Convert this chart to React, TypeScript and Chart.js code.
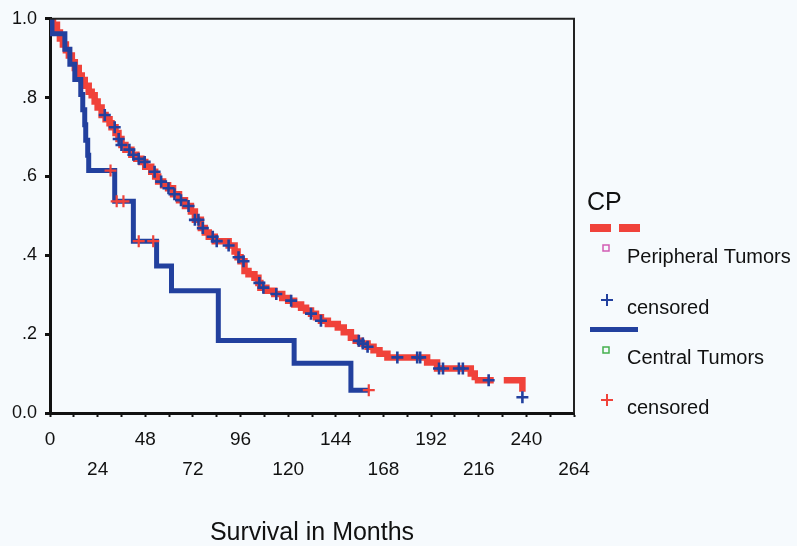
import React, { useEffect, useRef } from 'react';
import { Chart, registerables } from 'chart.js';

Chart.register(...registerables);

// ---- Data ----
// Peripheral tumors: Kaplan-Meier step points (month of event, survival after it)
const periMonths = [0, 1.5, 3.5, 5, 6.5, 8, 9.5, 11, 12.5, 14.5, 16, 17.5, 19.5, 21, 22.5, 24, 26, 28, 30, 31, 33, 34.5, 36, 38, 41, 43.5, 46, 48, 51, 53, 54.5, 57, 59.5, 62, 65, 68, 71, 73, 76, 78, 80, 83, 90, 93, 94.5, 96, 98, 100, 103, 105, 106, 109, 113, 117, 120, 123, 126.5, 129, 131.5, 134, 136.5, 140, 145, 148, 151.6, 154, 156.6, 160, 163, 166, 170, 190, 195, 212, 214, 238];
const periSurv = [1.0, 0.985, 0.965, 0.95, 0.935, 0.92, 0.907, 0.89, 0.875, 0.856, 0.845, 0.83, 0.815, 0.806, 0.79, 0.775, 0.756, 0.745, 0.735, 0.725, 0.71, 0.695, 0.68, 0.668, 0.655, 0.645, 0.637, 0.625, 0.612, 0.6, 0.587, 0.578, 0.57, 0.555, 0.54, 0.525, 0.511, 0.49, 0.469, 0.458, 0.447, 0.436, 0.425, 0.41, 0.395, 0.385, 0.36, 0.352, 0.343, 0.33, 0.318, 0.31, 0.302, 0.292, 0.285, 0.275, 0.267, 0.26, 0.252, 0.243, 0.234, 0.226, 0.217, 0.205, 0.191, 0.183, 0.176, 0.168, 0.159, 0.15, 0.141, 0.128, 0.113, 0.1, 0.083, 0.04];
const periCensorMonths = [27.6, 32.6, 34.6, 36, 40, 42, 44.7, 47.7, 52.7, 56, 59.7, 62.7, 66, 69.8, 73, 74.8, 77, 82, 84, 90, 95, 97.5, 105.5, 107.5, 114, 121.5, 131.5, 136.5, 155.6, 157.6, 160, 175, 185, 186.5, 196, 198, 206, 208, 221, 238];

// Central tumors
const centMonths = [0, 1, 7.5, 10, 12.5, 15.5, 16.5, 17.5, 18, 19, 19.5, 32.6, 42, 53.7, 61.2, 84.8, 123, 151.6, 160.6];
const centSurv = [1, 0.962, 0.923, 0.885, 0.846, 0.808, 0.769, 0.731, 0.692, 0.654, 0.615, 0.537, 0.436, 0.373, 0.31, 0.184, 0.126, 0.058, 0.058];
const centCensorMonths = [30.5, 33.6, 37, 44.7, 52, 160.6];

const xLabelsRow1 = [0, 48, 96, 144, 192, 240];
const xLabelsRow2 = [24, 72, 120, 168, 216, 264];

const legendTitle = 'CP';
const groupNames = ['Peripheral Tumors', 'Central Tumors'];
const censoredLabel = 'censored';
const xTitle = 'Survival in Months';

// ---- Styles ----
const RED = '#f0423a';
const BLUE = '#22409e';
const BG = '#f6fafd';
const INK = '#111111';
const FONT = '"Liberation Sans", Arial, Helvetica, sans-serif';

function survAt(months: number[], surv: number[], t: number): number {
  let v = surv[0];
  for (let i = 0; i < months.length; i++) {
    if (months[i] <= t) v = surv[i];
  }
  return v;
}

const bgPlugin = {
  id: 'bg',
  beforeDraw(chart: any) {
    const ctx = chart.ctx;
    ctx.save();
    ctx.fillStyle = BG;
    ctx.fillRect(0, 0, chart.width, chart.height);
    ctx.restore();
  },
};

const framePlugin = {
  id: 'frame',
  afterDraw(chart: any) {
    const { ctx, chartArea } = chart;
    const { left, right, top, bottom } = chartArea;
    ctx.save();
    ctx.strokeStyle = '#222';
    ctx.lineWidth = 2;
    ctx.beginPath();
    ctx.moveTo(left, top);
    ctx.lineTo(right, top);
    ctx.lineTo(right, bottom);
    ctx.stroke();
    ctx.restore();
  },
};

const legendPlugin = {
  id: 'kmLegend',
  afterDraw(chart: any) {
    const ctx = chart.ctx;
    ctx.save();
    ctx.fillStyle = INK;
    ctx.textBaseline = 'middle';
    ctx.textAlign = 'left';
    ctx.font = `25px ${FONT}`;
    ctx.fillText(legendTitle, 587, 203);

    // red dashed line
    ctx.fillStyle = RED;
    ctx.fillRect(590, 224, 21, 8);
    ctx.fillRect(619, 224, 21, 8);

    // pink square
    ctx.strokeStyle = '#d25cb4';
    ctx.lineWidth = 1.5;
    ctx.strokeRect(603, 245, 6, 6);

    ctx.fillStyle = INK;
    ctx.font = `20px ${FONT}`;
    ctx.fillText(groupNames[0], 627, 257);

    const cross = (cx: number, cy: number, color: string) => {
      ctx.strokeStyle = color;
      ctx.lineWidth = 2;
      ctx.beginPath();
      ctx.moveTo(cx - 6, cy);
      ctx.lineTo(cx + 6, cy);
      ctx.moveTo(cx, cy - 6);
      ctx.lineTo(cx, cy + 6);
      ctx.stroke();
    };
    cross(607, 300, BLUE);
    ctx.fillText(censoredLabel, 627, 308);

    // blue line
    ctx.fillStyle = BLUE;
    ctx.fillRect(590, 327, 48, 5);

    // green square
    ctx.strokeStyle = '#45b04e';
    ctx.lineWidth = 1.5;
    ctx.strokeRect(603, 347, 6, 6);

    ctx.fillStyle = INK;
    ctx.fillText(groupNames[1], 627, 358);

    cross(607, 400, RED);
    ctx.fillStyle = INK;
    ctx.fillText(censoredLabel, 627, 408);
    ctx.restore();
  },
};

export default function App() {
  const canvasRef = useRef<HTMLCanvasElement | null>(null);

  useEffect(() => {
    const canvas = canvasRef.current;
    if (!canvas) return;
    Chart.defaults.font.family = FONT;

    const periLine = periMonths.map((m, i) => ({ x: m, y: periSurv[i] }));
    const centLine = centMonths.map((m, i) => ({ x: m, y: centSurv[i] }));
    const periCens = periCensorMonths.map((m) => ({ x: m, y: survAt(periMonths, periSurv, m) }));
    const centCens = centCensorMonths.map((m) => ({ x: m, y: survAt(centMonths, centSurv, m) }));

    const chart = new Chart(canvas, {
      type: 'line',
      data: {
        datasets: [
          {
            label: 'central censored',
            data: centCens,
            showLine: false,
            pointStyle: 'cross',
            pointRadius: 6,
            pointBorderWidth: 2.2,
            pointBorderColor: RED,
            pointBackgroundColor: RED,
          },
          {
            label: 'peripheral censored',
            data: periCens,
            showLine: false,
            pointStyle: 'cross',
            pointRadius: 6,
            pointBorderWidth: 2.6,
            pointBorderColor: BLUE,
            pointBackgroundColor: BLUE,
          },
          {
            label: groupNames[1],
            data: centLine,
            stepped: true,
            borderColor: BLUE,
            borderWidth: 5,
            pointRadius: 0,
            fill: false,
            borderCapStyle: 'butt',
            borderJoinStyle: 'miter',
          },
          {
            label: groupNames[0],
            data: periLine,
            stepped: true,
            borderColor: RED,
            borderWidth: 6.5,
            pointRadius: 0,
            fill: false,
            borderCapStyle: 'butt',
            borderJoinStyle: 'miter',
            segment: {
              borderDash: (c: any) => (c.p1.parsed.x - c.p0.parsed.x > 20 ? [19, 10, 30] : undefined),
            },
          },
        ],
      },
      options: {
        animation: false,
        responsive: false,
        maintainAspectRatio: false,
        layout: { padding: { left: 0, top: 16, right: 223, bottom: 0 } },
        plugins: { legend: { display: false }, tooltip: { enabled: false } },
        scales: {
          x: {
            type: 'linear',
            min: 0,
            max: 264,
            ticks: {
              stepSize: 12,
              autoSkip: false,
              maxRotation: 0,
              padding: 8,
              color: INK,
              font: { family: FONT, size: 19, lineHeight: '30px' },
              callback: (value: any) => {
                const v = Math.round(Number(value));
                if (xLabelsRow1.includes(v)) return String(v);
                if (xLabelsRow2.includes(v)) return ['', String(v)];
                return '';
              },
            },
            grid: {
              display: true,
              drawOnChartArea: false,
              drawTicks: true,
              tickLength: 4,
              tickWidth: 2,
              tickColor: INK,
            },
            border: { display: true, color: INK, width: 3 },
            title: {
              display: true,
              text: xTitle,
              color: INK,
              font: { family: FONT, size: 25, lineHeight: 1 },
              padding: { top: 0, bottom: 0 },
            },
            afterFit: (s: any) => {
              s.height = 133;
            },
          },
          y: {
            min: 0,
            max: 1,
            ticks: {
              stepSize: 0.2,
              padding: 8,
              color: INK,
              font: { family: FONT, size: 18 },
              callback: (value: any) => {
                const v = Math.round(Number(value) * 10);
                if (v === 0) return '0.0';
                if (v === 10) return '1.0';
                return '.' + v;
              },
            },
            grid: {
              display: true,
              drawOnChartArea: false,
              drawTicks: true,
              tickLength: 5,
              tickWidth: 3,
              tickColor: INK,
            },
            border: { display: true, color: INK, width: 3 },
            afterFit: (s: any) => {
              s.width = 50;
            },
          },
        },
      },
      plugins: [bgPlugin, framePlugin, legendPlugin],
    } as any);

    return () => {
      chart.destroy();
    };
  }, []);

  return (
    <div style={{ position: 'absolute', left: 0, top: 0, width: 797, height: 546 }}>
      <canvas ref={canvasRef} width={797} height={546} style={{ display: 'block', width: 797, height: 546 }} />
    </div>
  );
}
